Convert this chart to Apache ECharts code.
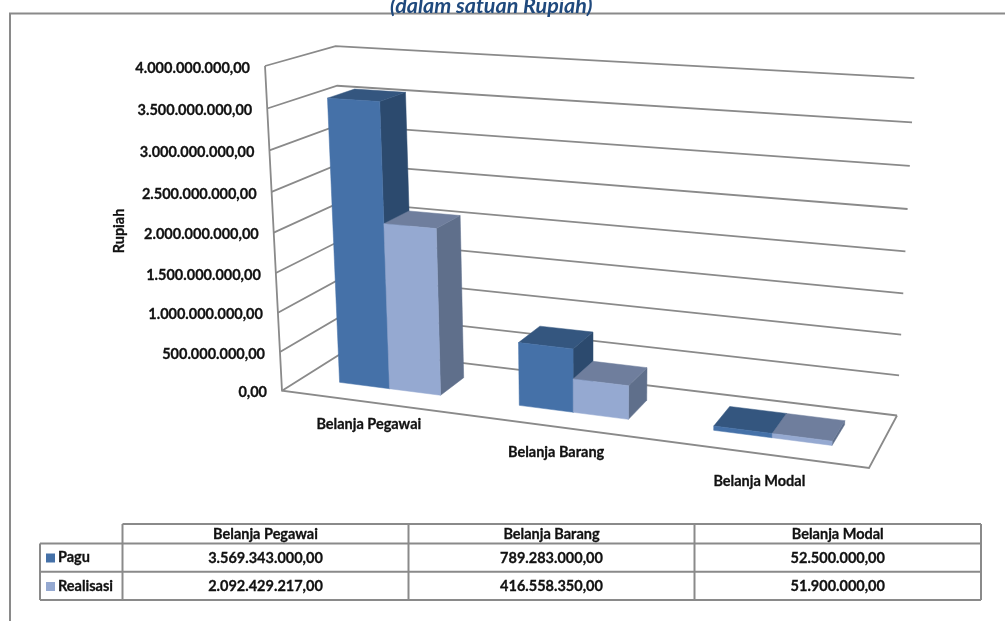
<!DOCTYPE html>
<html>
<head>
<meta charset="utf-8">
<style>html,body{margin:0;padding:0;background:#fff;overflow:hidden}#main{width:1005px;height:621px}</style>
<script src="https://cdn.jsdelivr.net/npm/echarts@6/dist/echarts.min.js"></script>
</head>
<body>
<div id="main"></div>
<script>
var categories = ['Belanja Pegawai', 'Belanja Barang', 'Belanja Modal'];
var paguValues = [3569343000, 789283000, 52500000];
var realisasiValues = [2092429217, 416558350, 51900000];
var yTicks = [0, 500000000, 1000000000, 1500000000, 2000000000, 2500000000, 3000000000, 3500000000, 4000000000];

var FONT = 'bold 14.5px Lato';
var LINE = '#8a8a8a';

function rupiah(v) {
    var s = v.toFixed(2).split('.');
    return s[0].replace(/\B(?=(\d{3})+$)/g, '.') + ',' + s[1];
}

// perspective of the box: corners of the plot on screen, u along categories, v into the page, w up
var O = [282, 390.7], U = [869, 468], V = [348, 349.2], W = [265, 66], S = [914.3, 78], T = [897, 415.5];
var det = (U[0] - T[0]) * (V[1] - T[1]) - (V[0] - T[0]) * (U[1] - T[1]);
var r0 = T[0] + O[0] - U[0] - V[0], r1 = T[1] + O[1] - U[1] - V[1];
var c1 = (r0 * (V[1] - T[1]) - (V[0] - T[0]) * r1) / det;
var c2 = ((U[0] - T[0]) * r1 - r0 * (U[1] - T[1])) / det;
var c3 = (S[0] + 2 * O[0] - U[0] - V[0] - W[0] - c1 * (U[0] - S[0]) - c2 * (V[0] - S[0])) / (W[0] - S[0]);

function project(u, v, w) {
    var d = 1 + c1 * u + c2 * v + c3 * w;
    return [0, 1].map(function (i) {
        return (O[i] + (U[i] * (1 + c1) - O[i]) * u + (V[i] * (1 + c2) - O[i]) * v + (W[i] * (1 + c3) - O[i]) * w) / d;
    });
}

function unit(params, api, cat, val) {
    var p = api.coord([cat, val]), cs = params.coordSys;
    return [(p[0] - cs.x) / cs.width, (cs.y + cs.height - p[1]) / cs.height];
}

function poly(points, fill) {
    return { type: 'polygon', shape: { points: points }, style: { fill: fill, stroke: fill, lineWidth: 0.5 } };
}

function line(points) {
    return { type: 'polyline', shape: { points: points }, style: { fill: 'none', stroke: LINE, lineWidth: 1.8 } };
}

function text(str, x, y, align, font) {
    return { type: 'text', style: { text: str, x: x, y: y, align: align, verticalAlign: 'middle', font: font || FONT, fill: '#111', stroke: '#111', lineWidth: 0.3 } };
}

function renderWall(params, api) {
    var w = unit(params, api, 0, api.value(1))[1];
    var a = project(0, 0, w);
    return {
        type: 'group',
        children: [
            line([a, project(0, 1, w), project(1, 1, w)]),
            text(rupiah(api.value(1)), a[0] - 15, a[1] + 2, 'right')
        ]
    };
}

function renderFrame(params, api) {
    return line([project(0, 0, 1), project(0, 0, 0), project(1, 0, 0), project(1, 1, 0)]);
}

// gap width 150 and gap depth 150, like the office default
function barRenderer(offset, faces) {
    return function (params, api) {
        var c = api.value(0);
        var top = unit(params, api, c, api.value(1));
        var bw = api.size([1, 0])[0] / params.coordSys.width / 3.5;
        var u0 = top[0] + offset * bw, u1 = u0 + bw, h = top[1];
        var v0 = 0.3, v1 = 0.7;
        var side = [project(u1, v0, 0), project(u1, v1, 0), project(u1, v1, h), project(u1, v0, h)];
        var cap = [project(u0, v0, h), project(u1, v0, h), project(u1, v1, h), project(u0, v1, h)];
        var front = [project(u0, v0, 0), project(u1, v0, 0), project(u1, v0, h), project(u0, v0, h)];
        return {
            type: 'group',
            children: [poly(side, faces[2]), poly(cap, faces[1]), poly(front, faces[0])]
        };
    };
}

function renderCatLabel(params, api) {
    var u = unit(params, api, api.value(0), 0)[0];
    var p = project(u, 0, 0);
    return text(categories[api.value(0)], p[0] - 1.5, p[1] + 20.5 + 9 * u, 'center');
}

var PAGU = ['#4571a8', '#34567f', '#2c4a6e'];
var REAL = ['#95a9d1', '#6f7e9d', '#5f6f8b'];

// data table under the plot
var tableX = [122.5, 408.5, 694.5, 981];
var tableY = [524, 543.5, 571.7, 600];
var rowX = 40;
var graphics = [
    { type: 'rect', shape: { x: 10, y: 13.5, width: 1020, height: 640 }, style: { fill: 'none', stroke: LINE, lineWidth: 2 } },
    { type: 'text', style: { text: 'Rupiah', x: 119, y: 231, align: 'center', verticalAlign: 'middle', font: 'bold 14.5px Lato', fill: '#111', stroke: '#111', lineWidth: 0.3 }, rotation: Math.PI / 2, originX: 119, originY: 231 }
];
function tline(x1, y1, x2, y2) {
    graphics.push({ type: 'line', shape: { x1: x1, y1: y1, x2: x2, y2: y2 }, style: { stroke: LINE, lineWidth: 2 } });
}
tline(tableX[0], tableY[0], tableX[3], tableY[0]);
tline(rowX, tableY[1], tableX[3], tableY[1]);
tline(rowX, tableY[2], tableX[3], tableY[2]);
tline(rowX, tableY[3], tableX[3], tableY[3]);
tline(rowX, tableY[1], rowX, tableY[3]);
tableX.forEach(function (x) { tline(x, tableY[0], x, tableY[3]); });
function ttext(str, x, y, align) {
    graphics.push({ type: 'text', style: { text: str, x: x, y: y, align: align, verticalAlign: 'middle', font: FONT, fill: '#111', stroke: '#111', lineWidth: 0.3 } });
}
categories.forEach(function (c, i) {
    var mid = (tableX[i] + tableX[i + 1]) / 2;
    ttext(c, mid, 534, 'center');
    ttext(rupiah(paguValues[i]), mid, 558, 'center');
    ttext(rupiah(realisasiValues[i]), mid, 586, 'center');
});
ttext('Pagu', 58, 557.5, 'left');
ttext('Realisasi', 58, 586, 'left');
graphics.push({ type: 'rect', shape: { x: 46, y: 553.5, width: 9, height: 9 }, style: { fill: PAGU[0] } });
graphics.push({ type: 'rect', shape: { x: 46, y: 582, width: 9, height: 9 }, style: { fill: REAL[0] } });

var chart = echarts.init(document.getElementById('main'), null, { renderer: 'canvas' });
chart.setOption({
    animation: false,
    backgroundColor: '#fff',
    title: {
        text: '(dalam satuan Rupiah)',
        left: 385,
        top: -10,
        textStyle: { color: '#1f497d', fontFamily: 'Lato', fontStyle: 'italic', fontWeight: 'bold', fontSize: 21.5 }
    },
    grid: { left: 0, right: 0, top: 0, bottom: 0 },
    xAxis: { type: 'category', data: categories, show: false },
    yAxis: { type: 'value', min: 0, max: 4000000000, interval: 500000000, show: false },
    graphic: graphics,
    series: [
        { type: 'custom', name: 'grid', clip: false, silent: true, renderItem: renderWall, data: yTicks.map(function (t) { return [0, t]; }), encode: { x: 0, y: 1 } },
        { type: 'custom', name: 'frame', clip: false, silent: true, renderItem: renderFrame, data: [[0, 0]], encode: { x: 0, y: 1 } },
        { type: 'custom', name: 'Pagu', clip: false, renderItem: barRenderer(-1, PAGU), data: paguValues.map(function (v, i) { return [i, v]; }), encode: { x: 0, y: 1 } },
        { type: 'custom', name: 'Realisasi', clip: false, renderItem: barRenderer(0, REAL), data: realisasiValues.map(function (v, i) { return [i, v]; }), encode: { x: 0, y: 1 } },
        { type: 'custom', name: 'labels', clip: false, silent: true, renderItem: renderCatLabel, data: categories.map(function (c, i) { return [i, 0]; }), encode: { x: 0, y: 1 } }
    ]
});
</script>
</body>
</html>
